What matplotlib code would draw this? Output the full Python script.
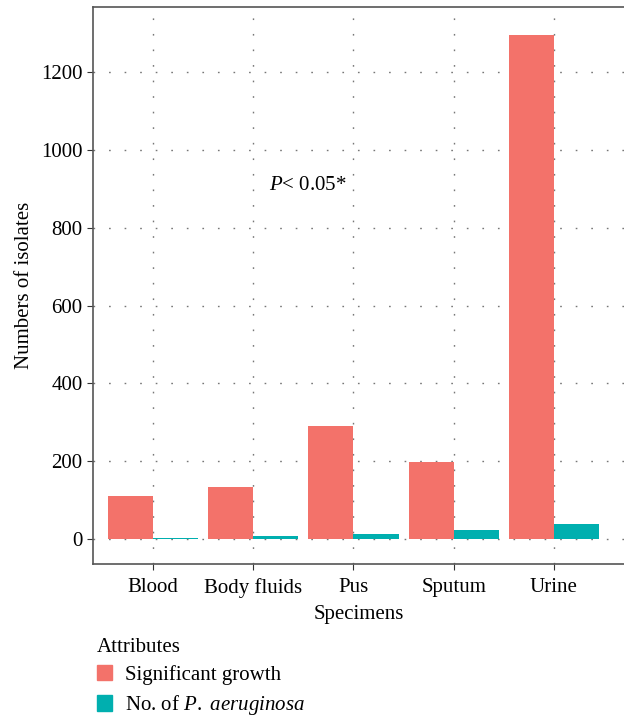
import numpy as np
import matplotlib
matplotlib.use("Agg")
import matplotlib.pyplot as plt
from matplotlib.patches import Patch

# data
specimens = ["Blood", "Body fluids", "Pus", "Sputum", "Urine"]
significant_growth = [110, 134, 290, 198, 1295]
p_aeruginosa = [2, 8, 13, 23, 38]
y_ticks = [0, 200, 400, 600, 800, 1000, 1200]

col_growth = "#F3726A"
col_pa = "#00AFAF"

plt.rcParams["font.family"] = ["Liberation Serif", "DejaVu Serif"]
plt.rcParams["mathtext.fontset"] = "custom"
plt.rcParams["mathtext.rm"] = "Liberation Serif"
plt.rcParams["mathtext.it"] = "Liberation Serif:italic"
plt.rcParams["font.size"] = 15

fig = plt.figure(figsize=(6.24, 7.18), dpi=100)
ax = fig.add_axes([0.149, 0.2145, 0.851, 0.7755])

x = np.arange(1, len(specimens) + 1)
w = 0.45
ax.bar(x - w / 2, significant_growth, width=w, color=col_growth, zorder=2)
ax.bar(x + w / 2, p_aeruginosa, width=w, color=col_pa, zorder=2)

ax.set_xlim(0.4, 5.7)
ax.set_ylim(-64, 1367)
ax.set_xticks(x)
ax.set_xticklabels(specimens, fontsize=15)
ax.set_yticks(y_ticks)
ax.tick_params(axis="y", labelsize=15, length=4, color="#333333")
ax.tick_params(axis="x", length=4, color="#333333", pad=6)

ax.grid(True, linestyle=(0, (1.2, 10)), color="#777777", linewidth=1, zorder=0)
for s in ["left", "bottom", "top"]:
    ax.spines[s].set_color("#555555")
    ax.spines[s].set_linewidth(1.2)
ax.spines["right"].set_visible(False)

ax.set_xlabel("Specimens", fontsize=15, labelpad=5)
ax.set_ylabel("Numbers of isolates", fontsize=15, labelpad=5)

ax.text(2.55, 910, r"$\it{P}$< 0.05*", fontsize=15, ha="center", va="center")

handles = [Patch(color=col_growth, label="Significant growth"),
           Patch(color=col_pa, label="No. of $\\it{P.}$ $\\it{aeruginosa}$")]
fig.legend(handles=handles, title="Attributes", loc="lower left",
           bbox_to_anchor=(0.125, -0.025), frameon=False, fontsize=15,
           title_fontsize=15, handlelength=0.75, handleheight=0.75,
           handletextpad=0.6, labelspacing=0.4, alignment="left")

fig.savefig("out.png", dpi=100)
